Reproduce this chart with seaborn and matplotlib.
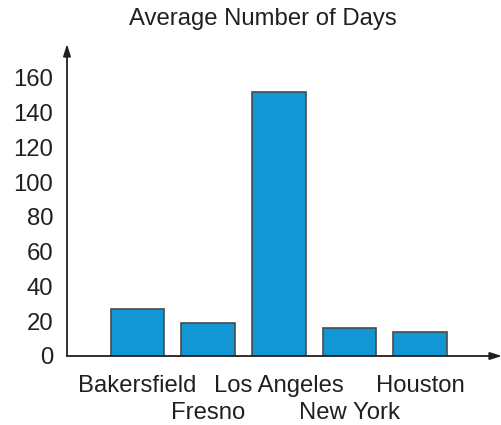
import matplotlib
matplotlib.use("Agg")
import matplotlib.pyplot as plt
import seaborn as sns

cities = ["Bakersfield", "Fresno", "Los Angeles", "New York", "Houston"]
days = [27, 19, 152, 16, 14]
y_ticks = [0, 20, 40, 60, 80, 100, 120, 140, 160]
title = "Average Number of Days"

sns.set_style("white")
plt.rcParams["font.family"] = ["Liberation Sans", "DejaVu Sans"]
txt = "#231f20"
fs = 17.2

fig = plt.figure(figsize=(5.02, 4.25), dpi=100)
ax = fig.add_axes([67 / 502, 69 / 425, 435 / 502, 312 / 425])

sns.barplot(x=cities, y=days, color="#1296d4", saturation=1, width=0.76,
            edgecolor="#4a4a4a", linewidth=1.2, ax=ax)

ax.set_xlim(-1, 5.16)
ax.set_ylim(0, 179.4)
ax.set_yticks(y_ticks)
ax.set_yticklabels([str(v) for v in y_ticks])

ax.set_xticks(range(len(cities)))
ax.set_xticklabels(cities)

ax.tick_params(axis="y", direction="inout", length=10, width=1, colors=txt,
               labelsize=fs, pad=5)
ax.tick_params(axis="x", direction="out", length=10, width=1, colors="#555555",
               labelcolor=txt, labelsize=fs, pad=4)

# second row for every other city label
for i, lab in enumerate(ax.get_xticklabels()):
    if i % 2 == 1:
        lab.set_y(-27 / 312)

for s in ax.spines.values():
    s.set_visible(False)

# axes with arrow heads
arrow = dict(arrowstyle="-|>,head_length=0.7,head_width=0.22", color=txt, lw=1.3,
             shrinkA=0, shrinkB=0)
ax.annotate("", xy=(0, 1), xytext=(0, 0), xycoords="axes fraction", arrowprops=arrow,
            annotation_clip=False)
ax.annotate("", xy=(1, 0), xytext=(0, 0), xycoords="axes fraction", arrowprops=arrow,
            annotation_clip=False)

fig.text(263 / 502, 1 - 19 / 425, title, ha="center", va="center", fontsize=fs, color=txt)

fig.savefig("out.png", dpi=100)
